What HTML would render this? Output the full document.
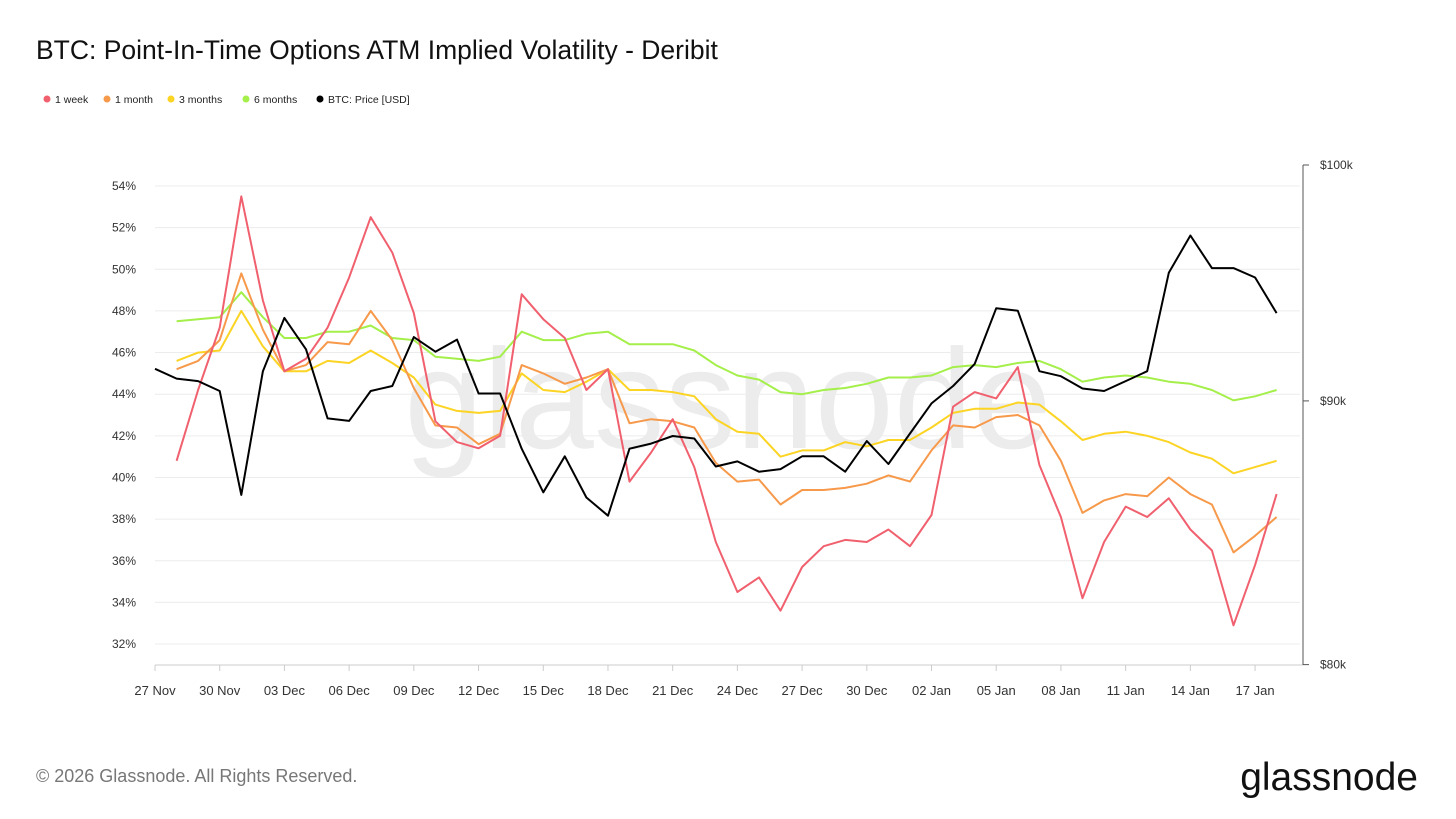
<!DOCTYPE html>
<html><head><meta charset="utf-8"><style>
body{margin:0;background:#fff;font-family:"Liberation Sans",sans-serif;}
#wrap{position:relative;width:1456px;height:819px;overflow:hidden;}
</style></head><body>
<div id="wrap">
<svg id="svg" width="1456" height="819" style="position:absolute;left:0;top:0">
<text x="36" y="59" font-size="26.5" fill="#111">BTC: Point-In-Time Options ATM Implied Volatility - Deribit</text>
<g font-size="10.5" fill="#222">
<g><circle cx="47" cy="99" r="3.5" fill="#f0606e"/><text x="55" y="103">1 week</text></g>
<g><circle cx="107" cy="99" r="3.5" fill="#f7994a"/><text x="115" y="103">1 month</text></g>
<g><circle cx="171" cy="99" r="3.5" fill="#fcd424"/><text x="179" y="103">3 months</text></g>
<g><circle cx="246" cy="99" r="3.5" fill="#a4ef4a"/><text x="254" y="103">6 months</text></g>
<g><circle cx="320" cy="99" r="3.5" fill="#000"/><text x="328" y="103">BTC: Price [USD]</text></g>
</g>
<text x="728" y="448" font-size="142" fill="#ececec" text-anchor="middle">glassnode</text>
<g id="grid"></g><g id="axes"></g><g id="series"></g>
<text x="36" y="782" font-size="18" fill="#777">© 2026 Glassnode. All Rights Reserved.</text>
<text x="1418" y="790" font-size="39" fill="#111" text-anchor="end">glassnode</text>
</svg>
</div>
<script>
const week=[40.8,44.2,47.2,53.5,48.5,45.1,45.7,47.2,49.6,52.5,50.8,47.9,42.7,41.7,41.4,42.0,48.8,47.6,46.7,44.2,45.2,39.8,41.2,42.8,40.5,36.9,34.5,35.2,33.6,35.7,36.7,37.0,36.9,37.5,36.7,38.2,43.4,44.1,43.8,45.3,40.6,38.1,34.2,36.9,38.6,38.1,39.0,37.5,36.5,32.9,35.8,39.2];
const month=[45.2,45.6,46.6,49.8,47.1,45.1,45.4,46.5,46.4,48.0,46.6,44.3,42.5,42.4,41.6,42.1,45.4,45.0,44.5,44.8,45.2,42.6,42.8,42.7,42.4,40.7,39.8,39.9,38.7,39.4,39.4,39.5,39.7,40.1,39.8,41.3,42.5,42.4,42.9,43.0,42.5,40.8,38.3,38.9,39.2,39.1,40.0,39.2,38.7,36.4,37.2,38.1];
const month3=[45.6,46.0,46.1,48.0,46.3,45.1,45.1,45.6,45.5,46.1,45.5,44.8,43.5,43.2,43.1,43.2,45.0,44.2,44.1,44.6,45.2,44.2,44.2,44.1,43.9,42.8,42.2,42.1,41.0,41.3,41.3,41.7,41.5,41.8,41.8,42.4,43.1,43.3,43.3,43.6,43.5,42.7,41.8,42.1,42.2,42.0,41.7,41.2,40.9,40.2,40.5,40.8];
const month6=[47.5,47.6,47.7,48.9,47.7,46.7,46.7,47.0,47.0,47.3,46.7,46.6,45.8,45.7,45.6,45.8,47.0,46.6,46.6,46.9,47.0,46.4,46.4,46.4,46.1,45.4,44.9,44.7,44.1,44.0,44.2,44.3,44.5,44.8,44.8,44.9,45.3,45.4,45.3,45.5,45.6,45.2,44.6,44.8,44.9,44.8,44.6,44.5,44.2,43.7,43.9,44.2];
const price=[91.3,90.9,90.8,90.4,86.3,91.2,93.4,92.1,89.3,89.2,90.4,90.6,92.6,92.0,92.5,90.3,90.3,88.1,86.4,87.8,86.2,85.5,88.1,88.3,88.6,88.5,87.4,87.6,87.2,87.3,87.8,87.8,87.2,88.4,87.5,88.7,89.9,90.6,91.5,93.8,93.7,91.2,91.0,90.5,90.4,90.8,91.2,95.3,96.9,95.5,95.5,95.1,93.6];
const xLabels=["27 Nov","30 Nov","03 Dec","06 Dec","09 Dec","12 Dec","15 Dec","18 Dec","21 Dec","24 Dec","27 Dec","30 Dec","02 Jan","05 Jan","08 Jan","11 Jan","14 Jan","17 Jan"];
const yTicks=[32,34,36,38,40,42,44,46,48,50,52,54];
const priceTicks=[80,90,100];

const NS="http://www.w3.org/2000/svg";
const X0=155,DX=21.57;
const xs=i=>X0+i*DX;
const ys=v=>186+(54-v)*20.82;
const yp=p=>165-Math.log(p/100)*2239;
function mk(tag,attrs,parent){const e=document.createElementNS(NS,tag);for(const k in attrs)e.setAttribute(k,attrs[k]);parent.appendChild(e);return e;}
const grid=document.getElementById('grid'),axes=document.getElementById('axes'),ser=document.getElementById('series');
yTicks.forEach(v=>{
  const l=mk('line',{x1:155,x2:1300,y1:ys(v),y2:ys(v),stroke:'#ececec','stroke-width':1},grid);
  
  
  const t=mk('text',{x:136,y:ys(v)+4,'font-size':12,fill:'#333','text-anchor':'end'},axes);
  t.textContent=v+'%';
  
  
});
const xa=mk('line',{x1:155,x2:1303,y1:665,y2:665,stroke:'#ccc'},axes);


xLabels.forEach((s,k)=>{
  const x=xs(k*3);
  mk('line',{x1:x,x2:x,y1:665,y2:671,stroke:'#ccc'},axes);
  const t=mk('text',{x:x,y:695,'font-size':13,fill:'#333','text-anchor':'middle'},axes);
  t.textContent=s;
  
  
});
const ra=mk('line',{x1:1303,x2:1303,y1:165,y2:665,stroke:'#555'},axes);


priceTicks.forEach(p=>{
  mk('line',{x1:1303,x2:1309,y1:yp(p),y2:yp(p),stroke:'#555'},axes);
  const t=mk('text',{x:1320,y:yp(p)+4,'font-size':12,fill:'#333'},axes);
  t.textContent='$'+p+'k';
  
  
});
function line(arr,start,fy,color,name){
  const d=arr.map((v,i)=>(i?'L':'M')+xs(i+start).toFixed(1)+' '+fy(v).toFixed(1)).join(' ');
  const p=mk('path',{d:d,fill:'none',stroke:color,'stroke-width':2,'stroke-linejoin':'round'},ser);
  
  
}
line(month6,1,ys,'#a4ef4a','line-6-months');
line(month3,1,ys,'#fcd424','line-3-months');
line(month,1,ys,'#f7994a','line-1-month');
line(week,1,ys,'#f0606e','line-1-week');
line(price,0,yp,'#000','line-btc-price');
</script>
</body></html>
